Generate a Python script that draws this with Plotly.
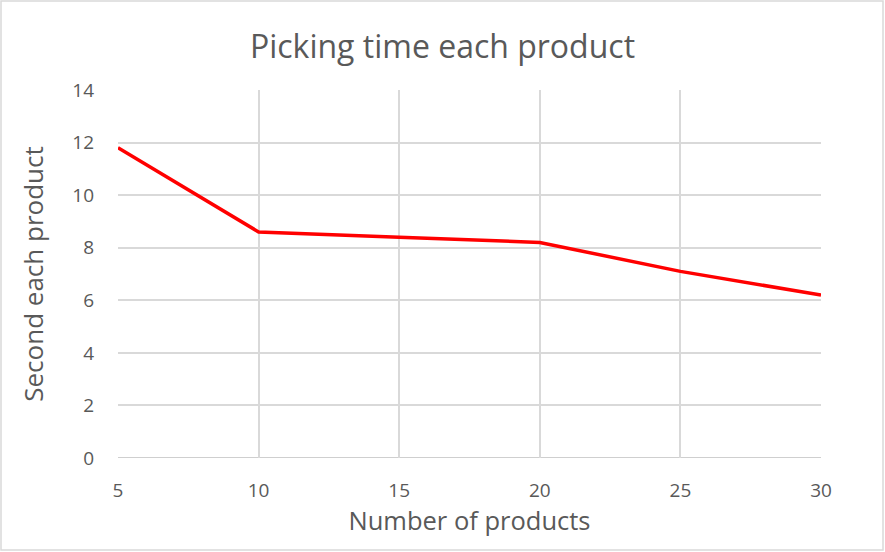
import plotly.graph_objects as go

# Picking time per product versus batch size
num_products = [5, 10, 15, 20, 25, 30]
seconds_each = [11.8, 8.6, 8.4, 8.2, 7.1, 6.2]
x_ticks = [5, 10, 15, 20, 25, 30]
y_ticks = [0, 2, 4, 6, 8, 10, 12, 14]

W, H = 885, 552
L, R, T, B = 118, 64, 90, 94
pw, ph = W - L - R, H - T - B

font_family = "Open Sans, sans-serif"
text_grey = "#595959"

fig = go.Figure(
    go.Scatter(
        x=num_products,
        y=seconds_each,
        mode="lines",
        line=dict(color="#ff0000", width=3.5),
        hoverinfo="x+y",
    )
)

fig.update_layout(
    width=W,
    height=H,
    margin=dict(l=L, r=R, t=T, b=B),
    paper_bgcolor="white",
    plot_bgcolor="white",
    showlegend=False,
    title=dict(
        text="Picking time each product",
        x=0.5,
        xanchor="center",
        y=1 - 47 / H,
        yanchor="middle",
        font=dict(family=font_family, size=32, color=text_grey),
    ),
    xaxis=dict(
        range=[5, 30],
        tickvals=x_ticks,
        showgrid=True,
        gridcolor="#d9d9d9",
        gridwidth=1.5,
        zeroline=False,
        showline=False,
        ticks="",
        ticklabelstandoff=19,
        tickfont=dict(family=font_family, size=19, color=text_grey),
        title=dict(
            text="Number of products",
            standoff=10,
            font=dict(family=font_family, size=25.5, color=text_grey),
        ),
    ),
    yaxis=dict(
        range=[0, 14],
        tickvals=y_ticks,
        showgrid=True,
        gridcolor="#d9d9d9",
        gridwidth=1.5,
        zeroline=False,
        showline=False,
        ticks="",
        ticklabelstandoff=23,
        tickfont=dict(family=font_family, size=19, color=text_grey),
        title=dict(
            text="Second each product",
            standoff=21,
            font=dict(family=font_family, size=26, color=text_grey),
        ),
    ),
    shapes=[
        # outer chart border
        dict(
            type="rect",
            xref="paper",
            yref="paper",
            x0=(1 - L) / pw,
            x1=(W - 2 - L) / pw,
            y0=(H - B - (H - 2)) / ph,
            y1=(H - B - 1) / ph,
            line=dict(color="#d9d9d9", width=1.5),
            layer="below",
        ),
        # category axis baseline
        dict(
            type="line",
            xref="paper",
            yref="y",
            x0=0,
            x1=1,
            y0=0,
            y1=0,
            line=dict(color="#bfbfbf", width=1.5),
            layer="below",
        ),
    ],
)

fig.write_html("out.html")
